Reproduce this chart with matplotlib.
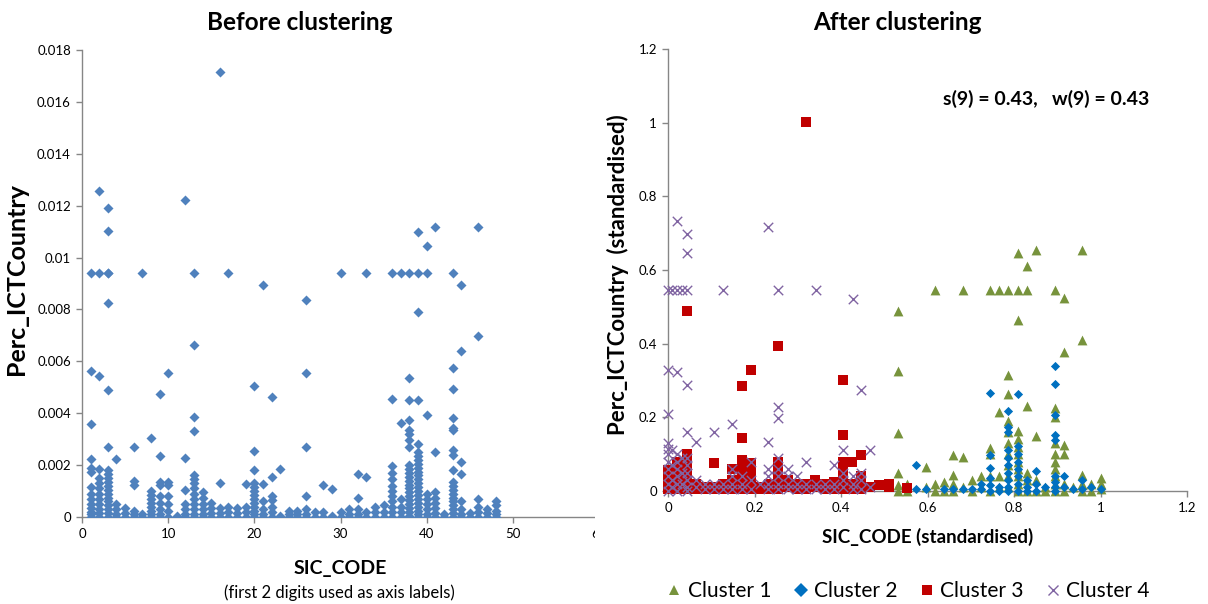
import matplotlib
matplotlib.use("Agg")
import matplotlib.pyplot as plt
from matplotlib.transforms import Bbox, TransformedBbox
from matplotlib.lines import Line2D

plt.rcParams['font.family'] = ['Lato', 'DejaVu Sans']

# ---- before clustering: SIC code vs share of ICT (values in thousandths) ----
sic_codes = list(range(1, 49))
perc_ict_milli = [
    [9.4, 5.62, 3.57, 2.23, 1.9, 1.75, 1.15, 0.9, 0.7, 0.5, 0.35, 0.2, 0.1, 0],
    [12.55, 9.4, 5.43, 1.86, 1.5, 1.3, 1.1, 0.9, 0.7, 0.5, 0.3, 0.15, 0],
    [11.9, 11.04, 9.4, 9.4, 8.26, 4.88, 2.71, 1.8, 1.65, 1.5, 1.35, 1.2, 1.05,
     0.9, 0.75, 0.6, 0.45, 0.3, 0.15, 0],
    [2.23, 0.5, 0.3, 0.1, 0],
    [0.35, 0.15, 0],
    [2.68, 1.4, 1.25, 0.25, 0.1, 0],
    [9.4, 0.1, 0],
    [3.05, 1.0, 0.85, 0.7, 0.55, 0.4, 0.25, 0.1, 0],
    [4.76, 2.35, 1.34, 1.22, 0.8, 0.55, 0.3, 0.1, 0],
    [5.54, 1.34, 1.22, 0.8, 0.5, 0.25, 0],
    [0.05, 0],
    [12.23, 2.28, 1.04, 0.5, 0.3, 0.1, 0],
    [9.4, 6.62, 3.87, 3.3, 1.6, 1.45, 1.3, 1.1, 0.9, 0.7, 0.5, 0.3, 0.1, 0],
    [0.95, 0.75, 0.5, 0.3, 0.1, 0],
    [0.55, 0.35, 0.15, 0],
    [17.14, 1.31, 0.35, 0.15, 0],
    [9.4, 0.4, 0.2, 0],
    [0.35, 0.15, 0],
    [1.26, 0.4, 0.2, 0],
    [5.06, 2.53, 1.82, 1.3, 1.15, 1.0, 0.85, 0.7, 0.55, 0.4, 0.25, 0.1, 0],
    [8.93, 1.26, 0.6, 0.3, 0.1, 0],
    [4.64, 1.56, 0.8, 0.65, 0.4, 0.2, 0],
    [1.86, 0.05],
    [0.25, 0.1, 0],
    [0.25, 0.1, 0],
    [8.36, 5.54, 2.68, 0.8, 0.3, 0.1, 0],
    [0.2, 0],
    [1.24, 0.2, 0],
    [1.09, 0.05],
    [9.4, 0.2, 0],
    [0.3, 0.1, 0],
    [1.67, 0.72, 0.3, 0.1, 0],
    [9.4, 1.53, 0.2, 0],
    [0.4, 0.2, 0],
    [0.45, 0.2, 0],
    [9.4, 4.54, 1.96, 1.7, 1.45, 1.2, 1.0, 0.8, 0.6, 0.4, 0.2, 0],
    [9.4, 3.62, 0.7, 0.4, 0.2, 0],
    [9.4, 5.36, 4.5, 3.75, 3.35, 3.2, 2.98, 2.68, 2.0, 1.85, 1.7, 1.55, 1.4,
     1.25, 1.1, 0.95, 0.8, 0.65, 0.5, 0.35, 0.2, 0.05, 0],
    [11.0, 9.4, 7.92, 4.5, 2.83, 2.5, 2.35, 2.2, 2.05, 1.9, 1.75, 1.6, 1.45,
     1.3, 1.15, 1.0, 0.85, 0.7, 0.55, 0.4, 0.25, 0.1, 0],
    [10.46, 9.4, 3.94, 0.9, 0.7, 0.5, 0.3, 0.1, 0],
    [11.19, 2.5, 0.95, 0.75, 0.55, 0.35, 0.15, 0],
    [0.1, 0],
    [9.4, 5.76, 4.94, 3.82, 3.42, 3.35, 2.6, 2.38, 1.82, 1.35, 1.2, 1.05, 0.9,
     0.75, 0.6, 0.45, 0.3, 0.15, 0],
    [8.96, 6.4, 2.13, 1.67, 0.62, 0.3, 0.1, 0],
    [0.15, 0],
    [11.19, 6.99, 0.7, 0.4, 0.2, 0],
    [0.3, 0.15, 0],
    [0.62, 0.45, 0.25, 0.1, 0],
]

# ---- after clustering: standardised SIC code columns and values per cluster ----
c1_x = [0.532, 0.553, 0.596, 0.617, 0.638, 0.66, 0.681, 0.702, 0.723, 0.745,
        0.766, 0.787, 0.809, 0.83, 0.851, 0.872, 0.894, 0.915, 0.936, 0.957,
        0.979, 1.0]
c1_y = [
    [0.489, 0.325, 0.158, 0.049, 0.015, 0],
    [0.02, 0],
    [0.065, 0.01],
    [0.547, 0.02, 0],
    [0.025, 0],
    [0.098, 0.044, 0.02, 0],
    [0.547, 0.091, 0.01],
    [0.03, 0],
    [0.04, 0.01],
    [0.547, 0.117, 0.1, 0.04, 0],
    [0.547, 0.214, 0.04, 0.01],
    [0.547, 0.315, 0.263, 0.19, 0.16, 0.13, 0.1, 0.07, 0.04, 0.01],
    [0.646, 0.547, 0.464, 0.164, 0.14, 0.12, 0.1, 0.08, 0.06, 0.04, 0.02, 0],
    [0.61, 0.547, 0.231, 0.05, 0.03, 0],
    [0.654, 0.148, 0.03, 0],
    [0.01, 0],
    [0.547, 0.226, 0.2, 0.13, 0.1, 0.08, 0.06, 0.04, 0.02, 0],
    [0.523, 0.377, 0.124, 0.1, 0.02, 0],
    [0.01],
    [0.654, 0.409, 0.044, 0.02, 0],
    [0.02, 0],
    [0.036, 0.02, 0.005],
]

c2_x = [0.574, 0.596, 0.638, 0.66, 0.681, 0.702, 0.723, 0.745, 0.766, 0.787,
        0.809, 0.83, 0.851, 0.872, 0.894, 0.915, 0.936, 0.957, 0.979, 1.0]
c2_y = [
    [0.07, 0.005],
    [0.005],
    [0.005],
    [0.005],
    [0.005],
    [0.005],
    [0.02, 0.005],
    [0.266, 0.098, 0.062, 0.035, 0.015, 0],
    [0.01, 0],
    [0.218, 0.174, 0.159, 0.11, 0.09, 0.07, 0.05, 0.03, 0.01, 0],
    [0.263, 0.122, 0.1, 0.08, 0.06, 0.04, 0.02, 0],
    [0.03, 0.01, 0],
    [0.055, 0.02, 0],
    [0.01],
    [0.339, 0.291, 0.205, 0.153, 0.138, 0.04, 0.025, 0.01, 0],
    [0.04, 0.01],
    [0.005],
    [0.03, 0.005],
    [0.01],
    [0.005],
]

c3_x = [0.0, 0.021, 0.043, 0.064, 0.085, 0.106, 0.128, 0.149, 0.17, 0.191,
        0.213, 0.234, 0.255, 0.277, 0.298, 0.319, 0.34, 0.362, 0.383, 0.404,
        0.426, 0.447, 0.468, 0.489, 0.511, 0.553]
c3_y = [
    [0.057, 0.04, 0.02, 0.005],
    [0.08, 0.06, 0.04, 0.02, 0.005],
    [0.489, 0.1, 0.08, 0.06, 0.04, 0.02, 0.005],
    [0.02, 0.005],
    [0.01, 0.005],
    [0.075, 0.01, 0.005],
    [0.02, 0.005],
    [0.06, 0.03, 0.005],
    [0.286, 0.143, 0.085, 0.06, 0.04, 0.02, 0.005],
    [0.328, 0.075, 0.05, 0.03, 0.005],
    [0.01, 0.005],
    [0.02, 0.005],
    [0.393, 0.08, 0.06, 0.04, 0.02, 0.005],
    [0.03, 0.01],
    [0.02, 0.005],
    [1.002, 0.02, 0.005],
    [0.03, 0.01],
    [0.02, 0.005],
    [0.025, 0.005],
    [0.301, 0.151, 0.08, 0.06, 0.04, 0.02, 0.005],
    [0.08, 0.02, 0.005],
    [0.098, 0.04, 0.02, 0.005],
    [0.01],
    [0.015],
    [0.018, 0.01],
    [0.008],
]

c4_x = [0.0, 0.01, 0.021, 0.032, 0.043, 0.064, 0.085, 0.106, 0.128, 0.149,
        0.17, 0.191, 0.213, 0.232, 0.255, 0.277, 0.298, 0.32, 0.342, 0.362,
        0.383, 0.404, 0.427, 0.447, 0.467]
c4_y = [
    [0.547, 0.328, 0.209, 0.13, 0.115, 0.1, 0.08, 0.06, 0.04, 0.02, 0],
    [0.547, 0.11, 0.07, 0.03, 0.01],
    [0.732, 0.547, 0.322, 0.1, 0.08, 0.06, 0.04, 0.02, 0],
    [0.547, 0.09, 0.05, 0.02],
    [0.698, 0.645, 0.547, 0.289, 0.161, 0.09, 0.07, 0.05, 0.03, 0.01, 0],
    [0.132, 0.03, 0.01],
    [0.02, 0.005],
    [0.161, 0.02, 0.005],
    [0.547, 0.02, 0.005],
    [0.181, 0.06, 0.04, 0.02, 0.005],
    [0.04, 0.02, 0.005],
    [0.08, 0.03, 0.005],
    [0.02],
    [0.716, 0.132, 0.06, 0.04, 0.02, 0.005],
    [0.547, 0.229, 0.197, 0.09, 0.06, 0.04, 0.02, 0.005],
    [0.06, 0.04, 0.02, 0.005],
    [0.04, 0.02, 0.005],
    [0.08, 0.02, 0.005],
    [0.547, 0.02, 0.005],
    [0.02, 0.005],
    [0.07, 0.02, 0.005],
    [0.11, 0.05, 0.03, 0.01],
    [0.52, 0.04, 0.02, 0.005],
    [0.273, 0.05, 0.03, 0.005],
    [0.11, 0.01],
]

cluster_names = ['Cluster 1', 'Cluster 2', 'Cluster 3', 'Cluster 4']


def flatten(cols, vals):
    xs, ys = [], []
    for x, col in zip(cols, vals):
        for v in col:
            xs.append(x)
            ys.append(v)
    return xs, ys


GREY = '#868686'
W, H = 1208, 604


def style_axes(ax):
    for side in ('top', 'right'):
        ax.spines[side].set_visible(False)
    for side in ('left', 'bottom'):
        ax.spines[side].set_color(GREY)
        ax.spines[side].set_linewidth(1.0)
    ax.tick_params(direction='out', length=4, width=1, color=GREY,
                   labelsize=9.5, pad=4)


fig = plt.figure(figsize=(W / 100, H / 100), dpi=100)

# left panel
ax1 = fig.add_axes([82 / W, 1 - 517 / H, 517 / W, 467 / H])
bx, by = flatten(sic_codes, perc_ict_milli)
ax1.scatter(bx, [v * 1e-3 for v in by], marker='D', s=26, color='#4F81BD',
            linewidths=0, zorder=3)
ax1.set_xlim(0, 60)
ax1.set_ylim(0, 0.018)
ax1.set_xticks(range(0, 61, 10))
ax1.set_yticks([i * 0.002 for i in range(10)])
ax1.set_yticklabels(['0', '0.002', '0.004', '0.006', '0.008', '0.01',
                     '0.012', '0.014', '0.016', '0.018'])
style_axes(ax1)
ax1.set_ylabel('Perc_ICTCountry', fontsize=18, fontweight='bold')
ax1.yaxis.set_label_coords(-0.105, 0.51)
ax1.set_xlabel('SIC_CODE', fontsize=14, fontweight='bold', labelpad=14)
fig.text(300 / W, 1 - 22 / H, 'Before clustering', ha='center', va='center',
         fontsize=17.5, fontweight='bold')
fig.text(339 / W, 1 - 593 / H, '(first 2 digits used as axis labels)',
         ha='center', va='center', fontsize=12)

# the left chart is cut off just before x = 60
clip = TransformedBbox(Bbox([[0, 0], [595 / W, 1]]), fig.transFigure)
ax1.spines['bottom'].set_clip_box(clip)
ax1.spines['bottom'].set_clip_on(True)
last_tick = ax1.xaxis.get_major_ticks()[-1]
for art in (last_tick.label1, last_tick.tick1line):
    art.set_clip_box(clip)
    art.set_clip_on(True)

# right panel
ax2 = fig.add_axes([668 / W, 1 - 491 / H, 519 / W, 442 / H])
styles = [
    dict(marker='^', s=50, color='#77933C', linewidths=0),
    dict(marker='D', s=22, color='#0070C0', linewidths=0),
    dict(marker='s', s=50, color='#C00000', linewidths=0),
    dict(marker='x', s=46, color='#8064A2', linewidths=1.0),
]
for cols, vals, st, name in zip([c1_x, c2_x, c3_x, c4_x],
                                [c1_y, c2_y, c3_y, c4_y],
                                styles, cluster_names):
    xs, ys = flatten(cols, vals)
    ax2.scatter(xs, ys, label=name, zorder=3, clip_on=False, **st)
ax2.set_xlim(0, 1.2)
ax2.set_ylim(0, 1.2)
ax2.set_xticks([0, 0.2, 0.4, 0.6, 0.8, 1.0, 1.2])
ax2.set_xticklabels(['0', '0.2', '0.4', '0.6', '0.8', '1', '1.2'])
ax2.set_yticks([0, 0.2, 0.4, 0.6, 0.8, 1.0, 1.2])
ax2.set_yticklabels(['0', '0.2', '0.4', '0.6', '0.8', '1', '1.2'])
style_axes(ax2)
fig.text(897 / W, 1 - 22 / H, 'After clustering', ha='center', va='center',
         fontsize=17.5, fontweight='bold')
ax2.set_ylabel('Perc_ICTCountry  (standardised)', fontsize=16,
               fontweight='bold')
ax2.yaxis.set_label_coords(-0.075, 0.49)
ax2.set_xlabel('SIC_CODE (standardised)', fontsize=13.5, fontweight='bold',
               labelpad=10)
ax2.text(0.875, 1.064, 's(9) = 0.43,   w(9) = 0.43', ha='center',
         va='center', fontsize=14, fontweight='bold')

handles = [Line2D([], [], linestyle='none', marker=st['marker'],
                  color=st['color'], markersize=7,
                  markeredgewidth=st['linewidths'] if st['marker'] == 'x' else 0)
           for st in styles]
fig.legend(handles, cluster_names, loc='center',
           bbox_to_anchor=(908 / W, 1 - 591 / H), ncol=4, frameon=False,
           fontsize=15, handlelength=0.8, handletextpad=0.25,
           columnspacing=1.0)

fig.savefig('out.png', dpi=100)
